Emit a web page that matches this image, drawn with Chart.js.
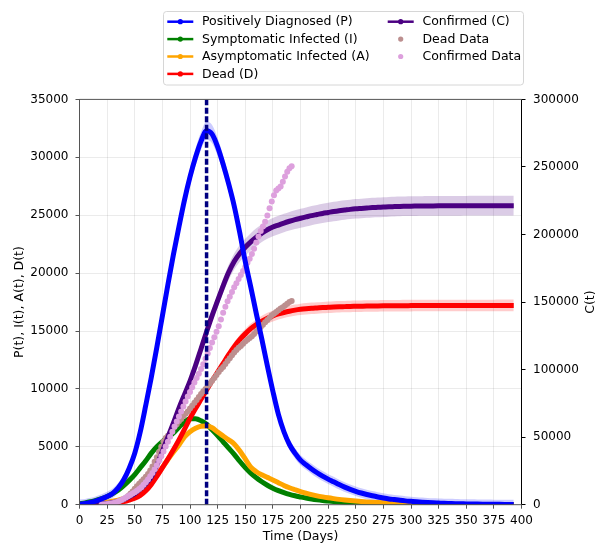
<!DOCTYPE html>
<html>
<head>
<meta charset="utf-8">
<script src="https://cdn.jsdelivr.net/npm/chart.js@4.4.0/dist/chart.umd.min.js"></script>
<style>
html, body { margin: 0; padding: 0; background: #fff; }
#wrap { width: 597px; height: 543px; }
</style>
</head>
<body>
<div id="wrap"><canvas id="myChart" width="597" height="543"></canvas></div>
<script>
// model output, sampled every 5 days
var days = [0,5,10,15,20,25,30,35,40,45,50,55,60,65,70,75,80,85,90,95,100,105,110,115,120,125,130,135,140,145,150,155,160,165,170,175,180,185,190,195,200,205,210,215,220,225,230,235,240,245,250,255,260,265,270,275,280,285,290,295,300,305,310,315,320,325,330,335,340,345,350,355,360,365,370,375,380,385,390,393];

var positive = [50,100,190,330,500,710,980,1450,2150,3150,4450,6300,8600,11000,13600,16300,19000,21600,24000,26300,28300,30000,31400,32300,32000,30900,29400,27700,25800,23500,21000,18800,16500,14300,12000,9800,7800,6300,5200,4450,3850,3450,3090,2760,2470,2210,1980,1740,1520,1330,1160,1010,880,770,670,580,500,440,380,330,290,250,215,185,160,140,120,105,90,80,70,60,52,45,40,35,30,26,22,20];

var symptomatic = [80,150,250,380,520,700,950,1250,1650,2100,2600,3200,3800,4450,5000,5450,5800,6200,6700,7150,7430,7420,7250,6950,6480,5980,5430,4880,4350,3750,3200,2720,2320,1980,1680,1430,1220,1040,890,770,670,575,495,425,365,315,268,228,193,163,138,117,99,84,71,60,51,43,37,31,26,22,19,16,14,12,10,9,8,7,6,5,4,4,3,3,3,2,2,2];

var asymptomatic = [20,40,70,110,160,220,300,400,520,680,900,1200,1550,2000,2550,3200,3900,4550,5150,5850,6300,6600,6780,6800,6650,6270,5930,5600,5250,4650,3950,3250,2850,2580,2360,2140,1900,1660,1460,1290,1130,995,875,765,675,595,525,460,405,355,310,272,238,208,182,160,140,122,107,93,81,71,62,54,47,41,36,31,27,24,21,18,16,14,12,11,10,9,8,8];

var dead = [0,10,20,35,50,80,120,180,270,400,560,800,1200,1750,2450,3200,3950,4750,5600,6500,7450,8300,9100,9900,10700,11450,12200,12950,13650,14250,14750,15200,15550,15850,16100,16300,16470,16600,16710,16800,16870,16920,16960,16990,17020,17045,17070,17090,17105,17120,17130,17140,17150,17158,17165,17172,17178,17183,17188,17190,17192,17194,17196,17198,17200,17200,17202,17203,17204,17205,17206,17207,17208,17209,17210,17210,17211,17211,17212,17212];

var confirmed = [0,50,150,300,550,900,1500,2500,3900,5800,8200,11500,15500,20500,29000,39500,50000,60500,71500,81500,91500,103000,115500,128000,140000,151000,162000,172000,180000,186000,190500,194500,198000,201000,203500,205500,207000,208500,209800,211000,212000,213000,214000,214800,215600,216300,217000,217600,218100,218600,219000,219300,219600,219900,220100,220300,220500,220650,220800,220900,221000,221050,221100,221140,221170,221200,221220,221240,221255,221270,221280,221290,221295,221300,221300,221300,221300,221300,221300,221300];

// observed data, every 2 days
var dataDays = [20,22,24,26,28,30,32,34,36,38,40,42,44,46,48,50,52,54,56,58,60,62,64,66,68,70,72,74,76,78,80,82,84,86,88,90,92,94,96,98,100,102,104,106,108,110,112,114,116,118,120,122,124,126,128,130,132,134,136,138,140,142,144,146,148,150,152,154,156,158,160,162,164,166,168,170,172,174,176,178,180,182,184,186,188,190,192];

var deadData = [30,50,80,100,130,160,210,270,330,400,480,600,760,950,1150,1380,1600,1800,2000,2200,2420,2650,2950,3300,3700,4100,4550,5000,5450,5750,5950,6150,6450,6700,6950,7200,7400,7650,7850,8050,8300,8550,8800,9050,9300,9550,9800,10000,10250,10450,10700,10950,11200,11450,11700,11900,12150,12400,12650,12900,13150,13350,13550,13700,13900,14100,14250,14400,14550,14750,14950,15150,15350,15550,15750,15950,16150,16350,16500,16650,16800,16950,17050,17200,17350,17500,17600];

var confirmedData = [100,200,330,500,750,1050,1450,2000,2700,3500,4400,5300,6200,7200,8200,9200,10300,11600,13000,14700,16600,18700,21000,23500,26200,29200,32500,35900,39400,43000,46600,50300,54000,57800,61500,65300,69000,72700,76300,80000,83500,87000,90500,93800,97000,100500,104000,108000,112000,116000,120000,124000,128000,132000,137000,142000,146500,150500,154000,157500,161000,164000,167000,170000,173000,176000,179000,182000,185500,189500,194000,198500,202500,206000,209500,214000,219500,224500,229000,232500,234000,235500,239000,243000,246500,249000,250500];

var peakDay = 115;
var xTicks = [0, 400, 25];
var leftTicks = [0, 35000, 5000];
var rightTicks = [0, 300000, 50000];

var legendItems = [
  { text: 'Positively Diagnosed (P)', color: '#0000ff', line: true },
  { text: 'Symptomatic Infected (I)', color: '#008000', line: true },
  { text: 'Asymptomatic Infected (A)', color: '#ffa500', line: true },
  { text: 'Dead (D)', color: '#ff0000', line: true },
  { text: 'Confirmed (C)', color: '#4b0082', line: true },
  { text: 'Dead Data', color: '#bc8f8f', line: false },
  { text: 'Confirmed Data', color: '#dda0dd', line: false }
];

function pts(xs, ys) {
  return xs.map(function (x, i) { return { x: x, y: ys[i] }; });
}
// shaded uncertainty band around a curve
function band(xs, ys, k, c, sign) {
  return xs.map(function (x, i) { return { x: x, y: ys[i] + sign * (ys[i] * k + c) }; });
}
function curve(label, ys, color, axis, order) {
  return {
    label: label, data: pts(days, ys), yAxisID: axis, order: order,
    borderColor: color, backgroundColor: color, borderWidth: 5,
    pointRadius: 0, fill: false, cubicInterpolationMode: 'monotone'
  };
}
function dots(label, ys, color, axis, order) {
  return {
    label: label, data: pts(dataDays, ys), yAxisID: axis, order: order,
    showLine: false, pointRadius: 3, borderWidth: 0,
    pointBackgroundColor: color, pointBorderColor: color, backgroundColor: color
  };
}
function bandPair(ys, color, axis, k, c) {
  var base = { yAxisID: axis, order: 10, borderWidth: 0, pointRadius: 0,
    borderColor: 'rgba(0,0,0,0)', cubicInterpolationMode: 'monotone' };
  return [
    Object.assign({ label: 'lo', data: band(days, ys, k, c, -1), fill: false }, base),
    Object.assign({ label: 'hi', data: band(days, ys, k, c, 1), fill: '-1', backgroundColor: color }, base)
  ];
}

var datasets = [
  { label: 'peak', data: [{ x: peakDay, y: leftTicks[0] }, { x: peakDay, y: leftTicks[1] }],
    yAxisID: 'y', order: 0, borderColor: '#000080', borderWidth: 3.5,
    borderDash: [6, 2.5], pointRadius: 0, fill: false },
  curve('Positively Diagnosed (P)', positive, '#0000ff', 'y', 1),
  dots('Confirmed Data', confirmedData, '#dda0dd', 'y2', 2),
  curve('Confirmed (C)', confirmed, '#4b0082', 'y2', 3),
  dots('Dead Data', deadData, '#bc8f8f', 'y', 4),
  curve('Dead (D)', dead, '#ff0000', 'y', 5),
  curve('Asymptomatic Infected (A)', asymptomatic, '#ffa500', 'y', 6),
  curve('Symptomatic Infected (I)', symptomatic, '#008000', 'y', 7)
].concat(
  bandPair(positive, 'rgba(0,0,255,0.2)', 'y', 0.012, 400),
  bandPair(confirmed, 'rgba(75,0,130,0.2)', 'y2', 0.033, 0),
  bandPair(dead, 'rgba(255,0,0,0.2)', 'y', 0.029, 0)
);

var FONT = '"DejaVu Sans", sans-serif';

var decor = {
  id: 'decor',
  afterDraw: function (chart) {
    var ctx = chart.ctx, a = chart.chartArea;
    ctx.save();
    // frame
    ctx.lineWidth = 1;
    ctx.strokeStyle = '#555';
    ctx.beginPath();
    ctx.moveTo(a.right, a.top); ctx.lineTo(a.left, a.top);
    ctx.lineTo(a.left, a.bottom); ctx.lineTo(a.right, a.bottom);
    ctx.stroke();
    ctx.strokeStyle = '#000';
    ctx.beginPath(); ctx.moveTo(a.right, a.top); ctx.lineTo(a.right, a.bottom); ctx.stroke();

    // axis titles
    var mid = (a.top + a.bottom) / 2;
    ctx.fillStyle = '#000';
    ctx.font = '12.5px ' + FONT;
    ctx.textAlign = 'center';
    ctx.textBaseline = 'middle';
    ctx.fillText('Time (Days)', (a.left + a.right) / 2, 537);
    ctx.save(); ctx.translate(19.5, mid); ctx.rotate(-Math.PI / 2);
    ctx.fillText('P(t), I(t), A(t), D(t)', 0, 0); ctx.restore();
    ctx.save(); ctx.translate(590.5, mid); ctx.rotate(-Math.PI / 2);
    ctx.fillText('C(t)', 0, 0); ctx.restore();

    // legend box
    var bx = 163.5, by = 11.5, bw = 360, bh = 73.5, r = 3;
    ctx.beginPath();
    ctx.moveTo(bx + r, by); ctx.arcTo(bx + bw, by, bx + bw, by + bh, r);
    ctx.arcTo(bx + bw, by + bh, bx, by + bh, r); ctx.arcTo(bx, by + bh, bx, by, r);
    ctx.arcTo(bx, by, bx + bw, by, r); ctx.closePath();
    ctx.fillStyle = 'rgba(255,255,255,0.8)'; ctx.fill();
    ctx.strokeStyle = '#d6d6d6'; ctx.stroke();

    ctx.textAlign = 'left';
    legendItems.forEach(function (it, i) {
      var col = i < 4 ? 0 : 1, row = i < 4 ? i : i - 4;
      var x0 = col === 0 ? 167.3 : 387.7, y = 21.7 + row * 17.4;
      if (it.line) {
        ctx.strokeStyle = it.color; ctx.lineWidth = 2.5;
        ctx.beginPath(); ctx.moveTo(x0, y); ctx.lineTo(x0 + 26, y); ctx.stroke();
      }
      ctx.fillStyle = it.color;
      ctx.beginPath(); ctx.arc(x0 + 13, y, 2.6, 0, Math.PI * 2); ctx.fill();
      ctx.fillStyle = '#000';
      ctx.fillText(it.text, x0 + 34.7, y + 0.5);
    });
    ctx.restore();
  }
};

var numLabel = function (v) { return String(v); };

var ctx = document.getElementById('myChart').getContext('2d');
var myChart = new Chart(ctx, {
  type: 'line',
  data: { datasets: datasets },
  options: {
    responsive: false,
    animation: false,
    devicePixelRatio: 1,
    layout: { padding: { top: 99.4, left: 0, right: 0, bottom: 0 } },
    plugins: { legend: { display: false }, tooltip: { enabled: false } },
    font: { family: FONT },
    scales: {
      x: {
        type: 'linear', min: xTicks[0], max: xTicks[1],
        ticks: { stepSize: xTicks[2], color: '#000', padding: 5, maxRotation: 0,
          autoSkip: false, font: { family: FONT, size: 12 }, callback: numLabel },
        grid: { color: 'rgba(0,0,0,0.08)', tickColor: '#555', tickLength: 4 },
        border: { display: false },
        afterFit: function (s) { s.height = 38.3; }
      },
      y: {
        position: 'left', min: leftTicks[0], max: leftTicks[1],
        ticks: { stepSize: leftTicks[2], color: '#000', padding: 7,
          font: { family: FONT, size: 12 }, callback: numLabel },
        grid: { color: 'rgba(0,0,0,0.08)', tickColor: '#555', tickLength: 4 },
        border: { display: false },
        afterFit: function (s) { s.width = 79.5; }
      },
      y2: {
        position: 'right', min: rightTicks[0], max: rightTicks[1],
        ticks: { stepSize: rightTicks[2], color: '#000', padding: 7.5,
          font: { family: FONT, size: 12 }, callback: numLabel },
        grid: { drawOnChartArea: false, tickColor: '#000', tickLength: 4 },
        border: { display: false },
        afterFit: function (s) { s.width = 75.5; }
      }
    }
  },
  plugins: [decor]
});
</script>
</body>
</html>
